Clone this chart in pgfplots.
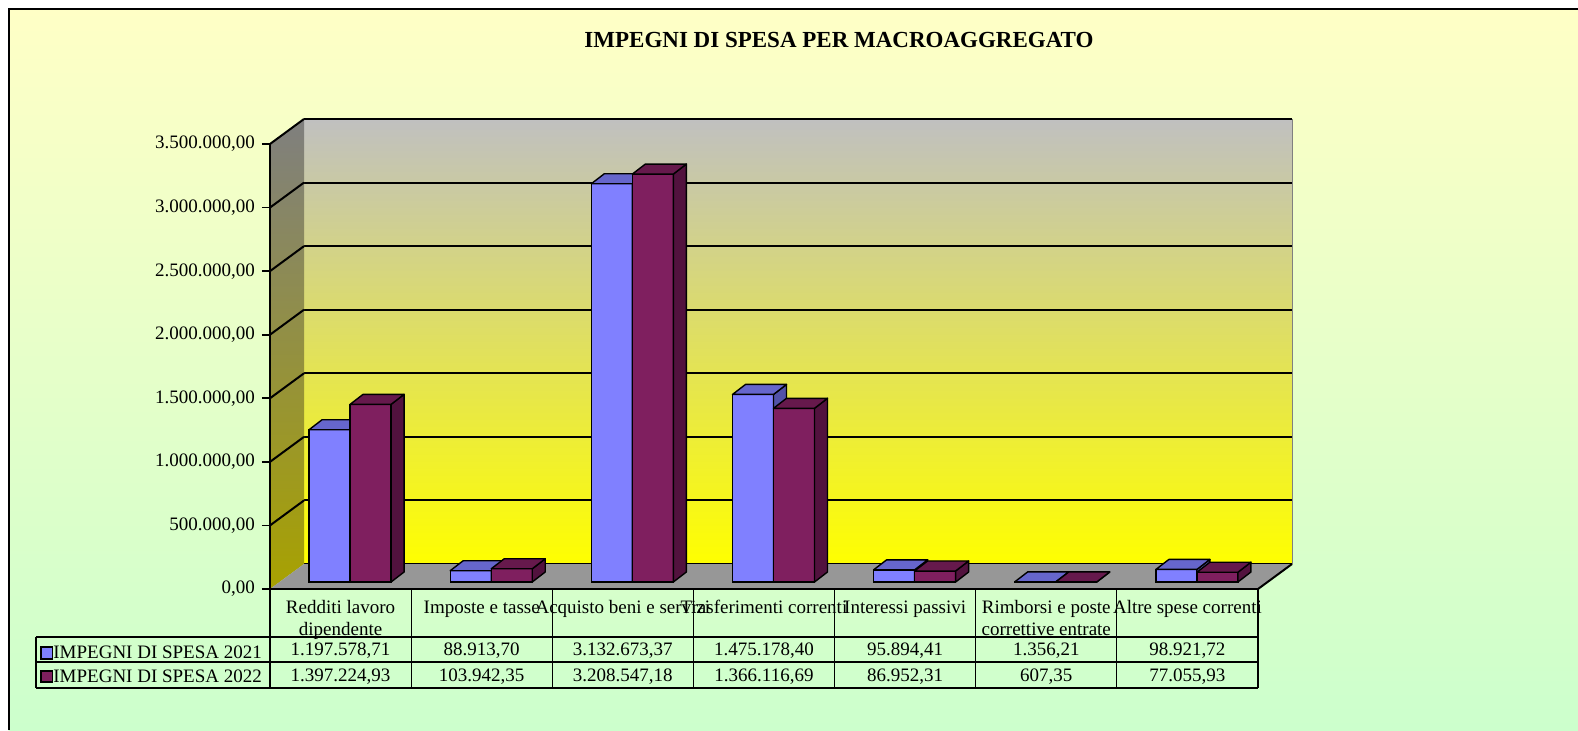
\documentclass[border=0pt]{standalone}
\usepackage{fontspec}
\setmainfont{Liberation Serif}
\usepackage{pgfplots}
\usepackage{pgfplotstable}
\pgfplotsset{compat=1.18}

\definecolor{bgtop}{HTML}{FFFFC6}
\definecolor{bgbot}{HTML}{CCFFCC}
\definecolor{wallTop}{HTML}{C0C0C0}
\definecolor{wallBot}{HTML}{FFFF00}
\definecolor{sideTop}{HTML}{7F7F7F}
\definecolor{sideBot}{HTML}{A8A200}
\definecolor{floorC}{HTML}{979797}
\definecolor{bF}{HTML}{8080FF}
\definecolor{bT}{HTML}{6666CC}
\definecolor{bS}{HTML}{5252A8}
\definecolor{pF}{HTML}{7F1F5F}
\definecolor{pT}{HTML}{66194C}
\definecolor{pS}{HTML}{52123E}

\newcommand{\tf}{\fontsize{9.5}{11}\selectfont}

\pgfplotstableread{
x   v21         v22
0.5 1197578.71  1397224.93
1.5 88913.70    103942.35
2.5 3132673.37  3208547.18
3.5 1475178.40  1366116.69
4.5 95894.41    86952.31
5.5 1356.21     607.35
6.5 98921.72    77055.93
}\data

\pgfdeclareplotmark{none3d}{}

\pgfplotsset{
  plane/.style={scale only axis, width=494pt, height=222.5pt,
    xmin=0, xmax=7, ymin=0, ymax=3500000, anchor=south west, clip=false},
  box3d/.style n args={3}{
    scatter, only marks, mark=none3d, forget plot,
    visualization depends on={rawy \as \val},
    scatter/@pre marker code/.code={%
      \filldraw[fill=#2, draw=black, line width=0.7pt, line join=round]
        (#3,0pt) -- ++(6.5pt,5pt)
        -- ([shift={(#3+6.5pt,5pt)}]axis direction cs:0,-\val)
        -- ([xshift=#3]axis direction cs:0,-\val) -- cycle;
      \filldraw[fill=#1, draw=black, line width=0.7pt, line join=round]
        (#3-20.5pt,0pt) -- (#3,0pt) -- ++(6.5pt,5pt) -- (#3-14pt,5pt) -- cycle;
    },
    scatter/@post marker code/.code={},
  },
}

\begin{document}
\begin{tikzpicture}
\useasboundingbox (0,0) rectangle (789pt,365pt);
% background
\fill[white] (0,0) rectangle (789pt,365pt);
\shade[top color=bgtop, bottom color=bgbot] (4.25pt,0) rectangle (789pt,360.5pt);
\draw[line width=1pt] (4.25pt,0) -- (4.25pt,360.5pt) -- (789pt,360.5pt);
% title
\node[font=\bfseries\fontsize{11.5}{13}\selectfont] at (419.5pt,345pt) {IMPEGNI DI SPESA PER MACROAGGREGATO};

% back wall with grid
\begin{axis}[plane, at={(152pt,83pt)},
  axis background/.style={top color=wallTop, bottom color=wallBot},
  axis line style={draw=none}, tick style={draw=none},
  scaled y ticks=false,
  xtick=\empty, ytick={0,500000,1000000,1500000,2000000,2500000,3000000,3500000},
  yticklabels={}, ymajorgrids, grid style={black, line width=1pt}]
\end{axis}

% left wall
\shade[top color=sideTop, bottom color=sideBot] (135pt,70.5pt) -- (135pt,293pt) -- (152pt,305.5pt) -- (152pt,83pt) -- cycle;
\foreach \k in {1,...,7}
  \draw[black, line width=1pt] (135pt,70.5pt+\k*31.7857pt) -- ++(17pt,12.5pt);
% floor
\fill[floorC] (135pt,70.5pt) -- (629pt,70.5pt) -- (646pt,83pt) -- (152pt,83pt) -- cycle;
\draw[black, line width=1pt] (629pt,70.5pt) -- (646pt,83pt);
\draw[gray, line width=0.5pt] (646pt,83pt) -- (646pt,305.5pt);

% bars 2021
\begin{axis}[plane, at={(139.75pt,74pt)}, hide axis]
\addplot[ybar, bar width=20.5pt, bar shift=-10.25pt, fill=bF, draw=black, line width=0.7pt] table[x=x,y=v21]{\data};
\addplot[box3d={bT}{bS}{0pt}] table[x=x,y=v21]{\data};
\end{axis}
% bars 2022
\begin{axis}[plane, at={(139.75pt,74pt)}, hide axis]
\addplot[ybar, bar width=20.5pt, bar shift=10.25pt, fill=pF, draw=black, line width=0.7pt] table[x=x,y=v22]{\data};
\addplot[box3d={pT}{pS}{20.5pt}] table[x=x,y=v22]{\data};
\end{axis}

% front axis with ticks and data table
\begin{axis}[plane, at={(135pt,70.5pt)},
  axis x line*=bottom, axis y line*=left,
  axis line style={black, line width=1pt},
  xtick=\empty,
  ytick={0,500000,1000000,1500000,2000000,2500000,3000000,3500000},
  scaled y ticks=false,
  tick align=outside, major tick length=4pt,
  tick style={black, line width=0.8pt},
  yticklabel style={font=\tf, /pgf/number format/.cd, fixed, fixed zerofill, precision=2, use comma, 1000 sep={.}, assume math mode=true},
  legend style={at={(-0.23279,-0.12562)}, anchor=north west, draw=none, fill=none,
    inner sep=0pt, outer sep=0pt, row sep=2.75pt, font=\tf,
    nodes={inner sep=0pt, text height=7pt, text depth=2pt},
    /tikz/every odd column/.append style={column sep=0pt}},
  legend cell align=left,
]
\addlegendimage{legend image code/.code={\filldraw[fill=bF, draw=black, line width=0.9pt] (0pt,-2.4pt) rectangle (5.8pt,3.4pt);}}
\addlegendentry{IMPEGNI DI SPESA 2021}
\addlegendimage{legend image code/.code={\filldraw[fill=pF, draw=black, line width=0.9pt] (0pt,-2.4pt) rectangle (5.8pt,3.4pt);}}
\addlegendentry{IMPEGNI DI SPESA 2022}

% table grid
\draw[line width=0.6pt] ([yshift=-24pt]axis cs:-1.658,0) -- ([yshift=-24pt]axis cs:7,0);
\draw[line width=0.6pt] ([yshift=-36.5pt]axis cs:-1.658,0) -- ([yshift=-36.5pt]axis cs:7,0);
\draw[line width=0.6pt] ([yshift=-49.5pt]axis cs:-1.658,0) -- ([yshift=-49.5pt]axis cs:7,0);
\draw[line width=0.6pt] ([yshift=-24pt]axis cs:-1.658,0) -- ([yshift=-49.5pt]axis cs:-1.658,0);
\draw[line width=0.6pt] (axis cs:0,0) -- ([yshift=-49.5pt]axis cs:0,0);
\draw[line width=0.6pt] (axis cs:1,0) -- ([yshift=-49.5pt]axis cs:1,0);
\draw[line width=0.6pt] (axis cs:2,0) -- ([yshift=-49.5pt]axis cs:2,0);
\draw[line width=0.6pt] (axis cs:3,0) -- ([yshift=-49.5pt]axis cs:3,0);
\draw[line width=0.6pt] (axis cs:4,0) -- ([yshift=-49.5pt]axis cs:4,0);
\draw[line width=0.6pt] (axis cs:5,0) -- ([yshift=-49.5pt]axis cs:5,0);
\draw[line width=0.6pt] (axis cs:6,0) -- ([yshift=-49.5pt]axis cs:6,0);
\draw[line width=0.6pt] (axis cs:7,0) -- ([yshift=-49.5pt]axis cs:7,0);

% category names
\begin{scope}[every node/.style={font=\tf, anchor=base, inner sep=0pt}]
\node at ([yshift=-12.35pt]axis cs:0.5,0) {Redditi lavoro};
\node at ([yshift=-23.2pt]axis cs:0.5,0) {dipendente};
\node at ([yshift=-12.35pt]axis cs:1.5,0) {Imposte e tasse};
\node at ([yshift=-12.35pt]axis cs:2.5,0) {Acquisto beni e servizi};
\node at ([yshift=-12.35pt]axis cs:3.5,0) {Trasferimenti correnti};
\node at ([yshift=-12.35pt]axis cs:4.5,0) {Interessi passivi};
\node at ([yshift=-12.35pt]axis cs:5.5,0) {Rimborsi e poste};
\node at ([yshift=-23.2pt]axis cs:5.5,0) {correttive entrate};
\node at ([yshift=-12.35pt]axis cs:6.5,0) {Altre spese correnti};
% values 2021
\node at ([yshift=-33.45pt]axis cs:0.5,0) {1.197.578,71};
\node at ([yshift=-33.45pt]axis cs:1.5,0) {88.913,70};
\node at ([yshift=-33.45pt]axis cs:2.5,0) {3.132.673,37};
\node at ([yshift=-33.45pt]axis cs:3.5,0) {1.475.178,40};
\node at ([yshift=-33.45pt]axis cs:4.5,0) {95.894,41};
\node at ([yshift=-33.45pt]axis cs:5.5,0) {1.356,21};
\node at ([yshift=-33.45pt]axis cs:6.5,0) {98.921,72};
% values 2022
\node at ([yshift=-46.2pt]axis cs:0.5,0) {1.397.224,93};
\node at ([yshift=-46.2pt]axis cs:1.5,0) {103.942,35};
\node at ([yshift=-46.2pt]axis cs:2.5,0) {3.208.547,18};
\node at ([yshift=-46.2pt]axis cs:3.5,0) {1.366.116,69};
\node at ([yshift=-46.2pt]axis cs:4.5,0) {86.952,31};
\node at ([yshift=-46.2pt]axis cs:5.5,0) {607,35};
\node at ([yshift=-46.2pt]axis cs:6.5,0) {77.055,93};
\end{scope}
\end{axis}
\end{tikzpicture}
\end{document}
